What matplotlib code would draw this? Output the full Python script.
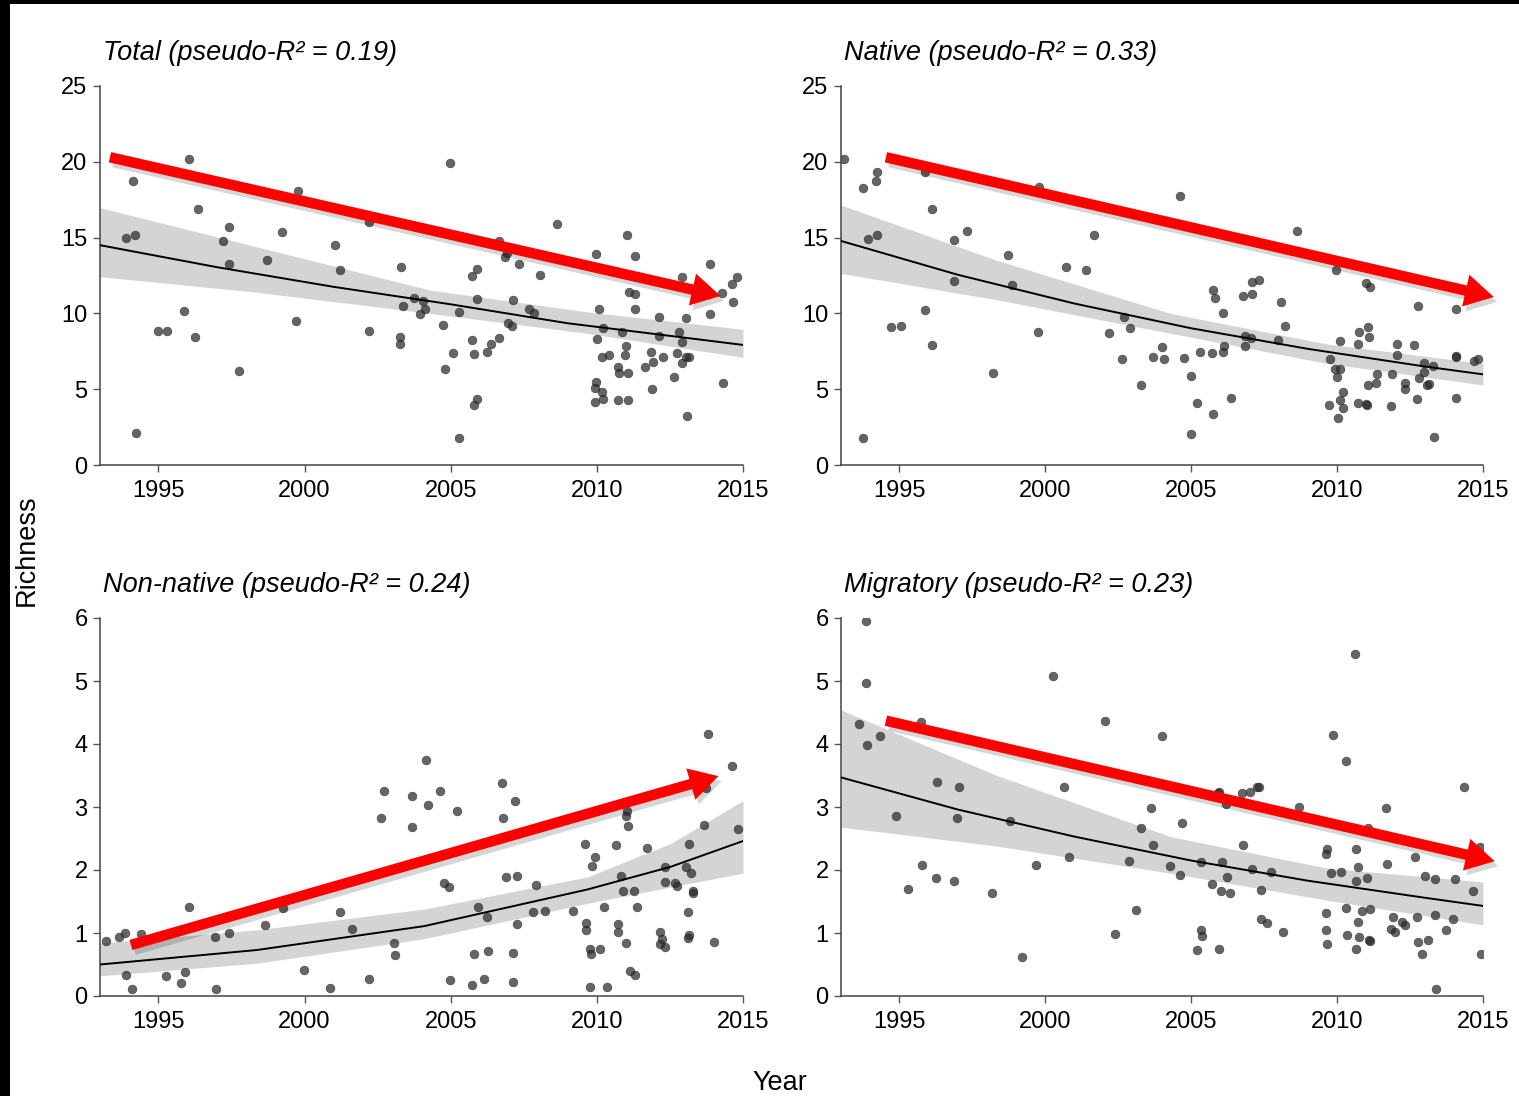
import matplotlib
matplotlib.use("Agg")
import matplotlib.pyplot as plt
import matplotlib.patheffects as pe
from matplotlib.patches import Rectangle

plt.rcParams['font.family'] = ['Liberation Sans', 'DejaVu Sans']

# ---------------- data ----------------
titles = ["Total (pseudo-R\u00b2 = 0.19)", "Native (pseudo-R\u00b2 = 0.33)",
          "Non-native (pseudo-R\u00b2 = 0.24)", "Migratory (pseudo-R\u00b2 = 0.23)"]

total_points = [
    (1994.14, 18.75), (1996.06, 20.2), (1993.89, 15.0), (1994.21, 15.2), (1999.79, 18.1),
    (1996.37, 16.9), (1997.41, 15.7), (1997.22, 14.75), (1999.23, 15.35), (1997.41, 13.26),
    (1998.73, 13.5), (2002.22, 16.05), (2001.04, 14.5), (2001.21, 12.84), (2003.31, 13.04),
    (2003.35, 10.5), (2003.75, 11.0), (2004.04, 10.8), (2004.11, 10.27), (2003.96, 9.96),
    (1995.87, 10.16), (1994.98, 8.82), (1995.28, 8.82), (1996.24, 8.46), (1999.71, 9.52),
    (2002.20, 8.86), (2003.25, 8.42), (2003.25, 8.0), (1997.75, 6.22), (1994.23, 2.08),
    (2004.99, 19.94), (2008.63, 15.87), (2011.04, 15.15), (2006.66, 14.8), (2006.86, 13.74),
    (2006.93, 14.0), (2009.98, 13.9), (2011.32, 13.79), (2007.34, 13.26), (2013.87, 13.26),
    (2005.90, 12.93), (2005.74, 12.47), (2008.05, 12.53), (2012.92, 12.4), (2014.79, 12.4),
    (2014.62, 11.94), (2014.28, 11.35), (2011.09, 11.43), (2011.30, 11.3), (2014.65, 10.77),
    (2013.87, 9.98), (2013.04, 9.72), (2012.13, 9.78), (2011.31, 10.31), (2010.09, 10.31),
    (2010.21, 9.06), (2010.86, 8.77), (2012.13, 8.53), (2012.81, 8.75), (2012.93, 8.11),
    (2010.02, 8.33), (2010.98, 7.87), (2010.95, 7.26), (2011.86, 7.47), (2012.25, 7.14),
    (2012.74, 7.41), (2011.93, 6.81), (2011.65, 6.48), (2010.74, 6.48), (2010.76, 6.05),
    (2011.08, 6.05), (2010.41, 7.28), (2010.18, 7.14), (2012.92, 6.75), (2013.04, 7.12),
    (2013.14, 7.14), (2012.65, 5.78), (2011.90, 5.04), (2014.31, 5.39), (2013.09, 3.25),
    (2009.96, 5.45), (2009.92, 5.1), (2010.17, 4.8), (2010.20, 4.38), (2009.95, 4.13),
    (2010.74, 4.31), (2011.05, 4.31), (2004.75, 9.23), (2005.28, 10.1), (2005.91, 10.95),
    (2007.13, 10.88), (2007.68, 10.31), (2007.85, 10.05), (2006.96, 9.35), (2007.10, 9.19),
    (2005.73, 8.27), (2006.65, 8.4), (2006.38, 7.98), (2006.24, 7.47), (2005.80, 7.34),
    (2005.08, 7.41), (2004.81, 6.35), (2005.91, 4.33), (2005.81, 3.94), (2005.27, 1.76),
]

native_points = [
    (1993.10, 20.2), (1993.74, 18.3), (1994.19, 18.75), (1994.23, 19.35), (1995.88, 19.33),
    (1999.79, 18.36), (1996.13, 16.9), (1993.92, 14.93), (1994.23, 15.2), (1996.88, 14.86),
    (1997.31, 15.46), (1998.73, 13.83), (1996.88, 12.12), (1998.86, 11.9), (2000.70, 13.04),
    (2001.38, 12.86), (2001.66, 15.2), (2002.70, 9.78), (2002.89, 9.06), (2002.20, 8.73),
    (1995.89, 10.22), (1994.70, 9.12), (1995.07, 9.17), (1996.13, 7.94), (1999.75, 8.79),
    (2002.63, 6.97), (2003.68, 7.14), (2004.00, 7.8), (2004.07, 7.01), (1998.20, 6.09),
    (2003.29, 5.3), (1993.74, 1.76),
    (2004.63, 17.76), (2008.63, 15.46), (2009.97, 12.84), (2010.99, 12.03), (2011.13, 11.72),
    (2012.76, 10.49), (2014.09, 10.29), (2005.75, 11.54), (2005.82, 11.02), (2007.08, 12.05),
    (2007.32, 12.18), (2006.77, 11.15), (2007.08, 11.3), (2006.08, 10.05), (2008.07, 10.77),
    (2008.20, 9.17), (2006.85, 8.51), (2007.06, 8.36), (2006.86, 7.87), (2007.99, 8.22),
    (2006.11, 7.87), (2006.08, 7.47), (2005.73, 7.41), (2005.30, 7.47), (2004.75, 7.08),
    (2005.00, 5.85), (2005.21, 4.07), (2005.75, 3.36), (2006.36, 4.44), (2005.00, 2.02),
    (2010.10, 8.18), (2009.77, 6.97), (2009.92, 6.31), (2010.11, 6.31), (2010.00, 5.83),
    (2010.21, 4.84), (2010.11, 4.27), (2010.21, 3.78), (2009.71, 3.94), (2010.04, 3.08),
    (2010.76, 8.75), (2010.73, 8.0), (2011.07, 9.12), (2011.10, 8.46), (2011.37, 5.98),
    (2011.32, 5.43), (2011.07, 5.26), (2010.73, 4.11), (2010.99, 4.02), (2011.04, 3.94),
    (2011.85, 3.87), (2011.89, 6.02), (2012.06, 8.0), (2012.06, 7.26), (2012.63, 7.94),
    (2012.32, 5.39), (2012.34, 4.99), (2012.73, 4.38), (2012.80, 5.76), (2012.97, 6.13),
    (2012.97, 6.75), (2013.30, 6.53), (2013.09, 5.26), (2013.16, 5.32), (2013.31, 1.83),
    (2014.06, 7.19), (2014.08, 7.15), (2014.06, 4.4), (2014.69, 6.86), (2014.84, 6.97),
]

nonnative_points = [
    (1993.21, 0.88), (1993.65, 0.93), (1993.85, 1.0), (1994.39, 0.99), (1993.88, 0.33),
    (1994.10, 0.11), (1995.26, 0.31), (1995.76, 0.2), (1995.91, 0.38), (1996.04, 1.42),
    (1996.93, 0.93), (1996.96, 0.11), (1997.41, 1.0), (1998.65, 1.12), (1999.27, 1.39),
    (1999.99, 0.41), (2000.87, 0.13), (2001.21, 1.34), (2001.63, 1.07), (2002.20, 0.27),
    (2002.70, 3.25), (2002.63, 2.82), (2003.68, 3.17), (2003.66, 2.68), (2004.16, 3.75),
    (2004.22, 3.03), (2003.07, 0.84), (2003.11, 0.65),
    (2004.64, 3.26), (2005.23, 2.93), (2006.76, 3.38), (2007.20, 3.1), (2006.79, 2.82),
    (2004.77, 1.8), (2004.95, 1.73), (2006.89, 1.89), (2007.27, 1.91), (2007.92, 1.76),
    (2005.93, 1.41), (2006.24, 1.26), (2007.82, 1.34), (2008.22, 1.35), (2009.17, 1.35),
    (2007.27, 1.14), (2005.81, 0.66), (2006.28, 0.71), (2007.13, 0.69), (2004.99, 0.25),
    (2005.73, 0.17), (2006.15, 0.27), (2007.13, 0.22), (2009.61, 2.41), (2009.95, 2.21),
    (2009.85, 2.07), (2010.67, 2.4), (2011.04, 2.94), (2011.00, 2.86), (2011.08, 2.7),
    (2011.72, 2.35), (2010.83, 1.91), (2010.91, 1.66), (2011.26, 1.66), (2010.25, 1.41),
    (2011.36, 1.42), (2009.64, 1.16), (2009.62, 1.04), (2010.74, 1.15), (2010.74, 1.02),
    (2009.76, 0.75), (2009.80, 0.66), (2010.10, 0.74), (2011.01, 0.84), (2011.13, 0.4),
    (2011.29, 0.33), (2009.76, 0.14), (2010.34, 0.14), (2012.32, 2.05), (2012.34, 1.81),
    (2012.69, 1.79), (2012.75, 1.75), (2012.15, 1.01), (2012.23, 0.91), (2012.15, 0.83),
    (2012.32, 0.78), (2013.16, 2.41), (2013.06, 2.05), (2013.23, 1.95), (2013.28, 1.66),
    (2013.30, 1.64), (2013.13, 1.34), (2013.16, 0.97), (2013.13, 0.92), (2013.67, 2.71),
    (2013.73, 3.3), (2013.81, 4.16), (2014.62, 3.65), (2014.83, 2.65), (2014.00, 0.85),
]

migratory_points = [
    (1993.85, 5.96), (1993.85, 4.97), (1993.62, 4.31), (1993.88, 3.99), (1994.33, 4.12),
    (1995.75, 4.35), (1996.29, 3.39), (1997.06, 3.31), (1994.88, 2.86), (1996.98, 2.82),
    (1998.80, 2.78), (1995.79, 2.08), (1995.31, 1.7), (1996.26, 1.88), (1996.88, 1.83),
    (1998.17, 1.64), (1999.20, 0.62), (2000.25, 5.08), (1999.68, 2.08), (2000.64, 3.31),
    (2000.83, 2.21), (2002.06, 4.37), (2004.00, 4.12), (2003.62, 2.98), (2003.29, 2.67),
    (2003.69, 2.4), (2002.88, 2.15), (2004.26, 2.07), (2003.12, 1.37), (2002.40, 0.98),
    (2010.62, 5.43), (2009.87, 4.15), (2010.31, 3.73), (2014.36, 3.31), (2011.67, 2.98),
    (2008.68, 3.0), (2005.91, 3.23), (2005.95, 3.24), (2006.73, 3.23), (2007.03, 3.24),
    (2007.24, 3.31), (2007.33, 3.31), (2006.18, 3.04), (2004.69, 2.75), (2006.77, 2.4),
    (2011.07, 2.66), (2009.66, 2.33), (2009.62, 2.25), (2010.65, 2.33), (2012.66, 2.2),
    (2011.71, 2.1), (2010.73, 2.05), (2014.90, 2.37), (2004.63, 1.92), (2005.34, 2.12),
    (2006.05, 2.13), (2006.23, 1.89), (2005.72, 1.78), (2006.03, 1.67), (2006.32, 1.64),
    (2007.09, 2.01), (2007.72, 1.97), (2007.39, 1.69), (2009.80, 1.96), (2010.12, 1.97),
    (2010.65, 1.83), (2011.03, 1.88), (2013.01, 1.91), (2013.34, 1.86), (2014.05, 1.86),
    (2014.65, 1.66), (2007.38, 1.23), (2007.60, 1.16), (2008.16, 1.02), (2005.34, 1.05),
    (2005.36, 0.96), (2005.20, 0.73), (2005.96, 0.75), (2009.63, 1.31), (2009.63, 1.04),
    (2009.66, 0.82), (2010.31, 1.39), (2010.85, 1.35), (2011.14, 1.38), (2010.73, 1.18),
    (2010.35, 0.97), (2010.76, 0.94), (2010.65, 0.75), (2011.11, 0.89), (2011.13, 0.88),
    (2011.93, 1.26), (2011.84, 1.06), (2011.99, 1.02), (2012.21, 1.17), (2012.31, 1.12),
    (2012.74, 1.26), (2013.34, 1.28), (2013.96, 1.23), (2013.72, 1.04), (2012.76, 0.85),
    (2013.10, 0.89), (2012.92, 0.66), (2013.38, 0.11), (2014.92, 0.66),
]

# fitted curves
line_years = [1993, 1997, 2001, 2005, 2009, 2013, 2015]
total_fit = [14.5, 13.05, 11.75, 10.6, 9.35, 8.4, 7.92]
native_fit = [14.78, 12.55, 10.65, 9.02, 7.66, 6.5, 5.98]
migratory_fit = [3.47, 2.96, 2.53, 2.15, 1.83, 1.56, 1.43]
nonnative_line_years = [1993.0, 1998.37, 2004.1, 2009.67, 2012.52, 2015.0]
nonnative_fit = [0.5, 0.73, 1.11, 1.69, 2.05, 2.46]

# confidence bands
band_years = [1993.0, 1998.34, 2004.29, 2009.66, 2015.0]
total_upper = [16.97, 14.4, 11.54, 10.1, 8.95]
total_lower = [12.42, 11.4, 10.0, 8.69, 7.1]
native_upper = [17.15, 13.5, 10.0, 7.98, 6.7]
native_lower = [12.64, 10.9, 8.69, 6.7, 5.28]
migratory_upper = [4.54, 3.5, 2.53, 2.03, 1.81]
migratory_lower = [2.68, 2.38, 1.95, 1.52, 1.13]
nonnative_band_years = [1993.0, 1998.37, 2004.1, 2009.67, 2012.52, 2015.0]
nonnative_upper = [0.84, 1.05, 1.38, 1.89, 2.42, 3.1]
nonnative_lower = [0.32, 0.52, 0.91, 1.47, 1.73, 1.95]

# red trend arrows: (start year, start value, end year, end value)
total_arrow = (1993.34, 20.3, 2014.23, 11.15)
native_arrow = (1994.54, 20.3, 2015.37, 11.08)
nonnative_arrow = (1994.06, 0.81, 2014.16, 3.49)
migratory_arrow = (1994.54, 4.37, 2015.40, 2.14)

x_ticks = [1995, 2000, 2005, 2010, 2015]
top_y_ticks = [0, 5, 10, 15, 20, 25]
bottom_y_ticks = [0, 1, 2, 3, 4, 5, 6]

panels = [
    (titles[0], total_points, line_years, total_fit, band_years, total_upper, total_lower,
     total_arrow, top_y_ticks),
    (titles[1], native_points, line_years, native_fit, band_years, native_upper, native_lower,
     native_arrow, top_y_ticks),
    (titles[2], nonnative_points, nonnative_line_years, nonnative_fit, nonnative_band_years,
     nonnative_upper, nonnative_lower, nonnative_arrow, bottom_y_ticks),
    (titles[3], migratory_points, line_years, migratory_fit, band_years, migratory_upper,
     migratory_lower, migratory_arrow, bottom_y_ticks),
]

# ---------------- figure ----------------
W, H = 1519, 1096
fig = plt.figure(figsize=(W / 100, H / 100), dpi=100)
fig.patch.set_facecolor('black')
fig.patches.append(Rectangle((10 / W, 0), 1 - 10 / W, 1 - 4 / H, transform=fig.transFigure,
                             facecolor='white', edgecolor='none', zorder=-10))

positions = [
    (100 / W, 1 - 465 / H, 643 / W, 379 / H),
    (841 / W, 1 - 465 / H, 642 / W, 379 / H),
    (100 / W, 1 - 996 / H, 643 / W, 378 / H),
    (841 / W, 1 - 996 / H, 642 / W, 378 / H),
]

fs = 17
fs_title = 19.5
for pos, (title, pts, ly, fit, by, up, lo, arrow, yt) in zip(positions, panels):
    ax = fig.add_axes(pos)
    ax.set_facecolor('white')
    xs = [p[0] for p in pts]
    ys = [p[1] for p in pts]
    ax.fill_between(by, lo, up, color='#d4d4d4', lw=0, zorder=1)
    ax.scatter(xs, ys, s=40, color='#2a2a2a', alpha=0.72, edgecolors='#202020',
               linewidths=0.4, zorder=2)
    ax.plot(ly, fit, color='black', lw=1.4, zorder=3)

    ax.set_xlim(1993, 2015)
    ax.set_ylim(0, yt[-1])
    ax.set_xticks(x_ticks)
    ax.set_yticks(yt)
    ax.tick_params(labelsize=fs, length=5, width=1, color='#555555', direction='out',
                   labelcolor='black')
    ax.tick_params(axis='x', pad=6)
    ax.tick_params(axis='y', pad=4)
    for s in ['top', 'right']:
        ax.spines[s].set_visible(False)
    for s in ['left', 'bottom']:
        ax.spines[s].set_color('#444444')
        ax.spines[s].set_linewidth(1.1)

    ax.text(0.004, 1.087, title, transform=ax.transAxes, fontsize=fs_title, style='italic',
            ha='left', va='center')

    x0, y0, x1, y1 = arrow
    ax.annotate('', xy=(x1, y1), xytext=(x0, y0), annotation_clip=False,
                arrowprops=dict(arrowstyle='simple,head_length=1.15,head_width=1.3,tail_width=0.42',
                                mutation_scale=18, color='#ff0000', shrinkA=0, shrinkB=0,
                                lw=0,
                                path_effects=[pe.SimplePatchShadow(offset=(2.5, -3.5),
                                                                   shadow_rgbFace='black',
                                                                   alpha=0.16),
                                              pe.Normal()]),
                zorder=5)

fig.text(27 / W, 1 - 550 / H, 'Richness', rotation=90, fontsize=fs_title, ha='center',
         va='center')
fig.text(780 / W, 1 - 1083 / H, 'Year', fontsize=fs_title, ha='center', va='center')

fig.savefig('out.png', dpi=100, facecolor=fig.get_facecolor())
